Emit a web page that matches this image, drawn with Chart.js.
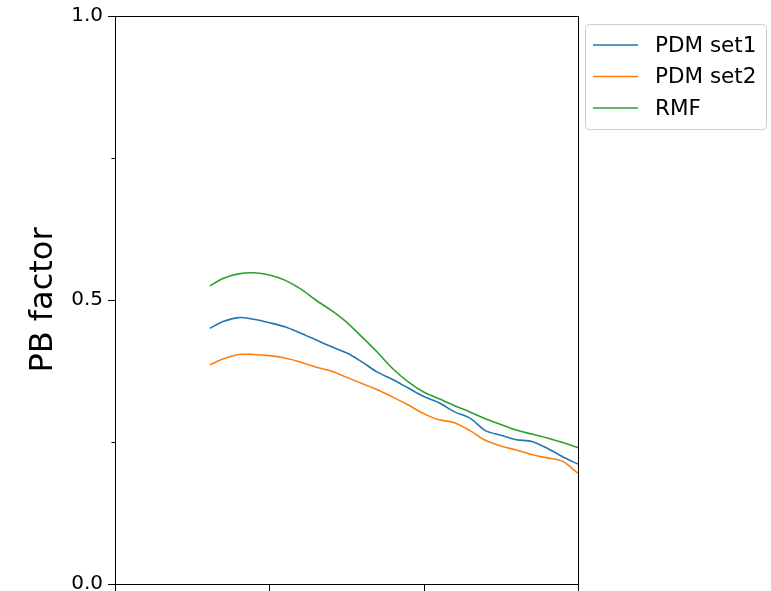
<!DOCTYPE html>
<html>
<head>
<meta charset="utf-8">
<script src="https://cdn.jsdelivr.net/npm/chart.js@4.4.1/dist/chart.umd.min.js"></script>
<style>
  html, body { margin: 0; padding: 0; overflow: hidden; background: #fff; }
  #wrap { width: 771px; height: 640px; }
</style>
</head>
<body>
<div id="wrap"><canvas id="pb"></canvas></div>
<script>
// x positions (axis 0..30, labels fall below the visible frame)
const xs = [6.15, 7, 8, 9, 10, 11, 12, 13, 14, 15, 16, 17, 18, 19, 20, 21, 22, 23, 24, 25, 26, 27, 28, 29, 30];

const pdmSet1 = [0.450, 0.462, 0.469, 0.466, 0.460, 0.453, 0.442, 0.430, 0.418, 0.407, 0.391, 0.373, 0.360, 0.345, 0.330, 0.319, 0.303, 0.292, 0.270, 0.262, 0.254, 0.251, 0.239, 0.224, 0.211];
const pdmSet2 = [0.386, 0.396, 0.404, 0.404, 0.402, 0.398, 0.391, 0.382, 0.375, 0.364, 0.353, 0.342, 0.329, 0.315, 0.300, 0.289, 0.284, 0.270, 0.253, 0.243, 0.236, 0.228, 0.222, 0.216, 0.195];
const rmf     = [0.525, 0.538, 0.546, 0.548, 0.544, 0.535, 0.520, 0.500, 0.482, 0.461, 0.435, 0.408, 0.379, 0.356, 0.338, 0.326, 0.314, 0.303, 0.291, 0.281, 0.271, 0.264, 0.257, 0.249, 0.240];

const seriesNames = ['PDM set1', 'PDM set2', 'RMF'];
const seriesColors = ['#1f77b4', '#ff7f0e', '#2ca02c'];
const yTicks = [0, 0.25, 0.5, 0.75, 1];
const yLabelled = [0, 0.5, 1];

const font = 'DejaVu Sans';

function pts(vals) {
  return vals.map((v, i) => ({ x: xs[i], y: v }));
}

// frame, tick marks and legend in matplotlib style
const mplStyle = {
  id: 'mplStyle',
  afterDatasetsDraw(chart) {
    const ctx = chart.ctx;
    const a = chart.chartArea;
    const xS = chart.scales.x, yS = chart.scales.y;
    ctx.save();
    ctx.strokeStyle = '#000';
    ctx.lineWidth = 1;
    ctx.strokeRect(Math.round(a.left) + 0.5, Math.round(a.top) + 0.5,
      Math.round(a.right - a.left), Math.round(a.bottom - a.top));

    ctx.beginPath();
    yTicks.forEach(t => {
      const y = Math.round(yS.getPixelForValue(t)) + 0.5;
      const len = yLabelled.includes(t) ? 7 : 3.5;
      ctx.moveTo(a.left, y);
      ctx.lineTo(a.left - len, y);
    });
    [0, 10, 20, 30].forEach(t => {
      const x = Math.round(xS.getPixelForValue(t)) + 0.5;
      ctx.moveTo(x, a.bottom);
      ctx.lineTo(x, a.bottom + 7);
    });
    ctx.stroke();

    // legend box
    const lx = 585, ly = 24, lw = 181, lh = 105;
    ctx.fillStyle = 'rgba(255,255,255,0.8)';
    ctx.strokeStyle = '#cccccc';
    ctx.beginPath();
    ctx.roundRect(lx + 0.5, ly + 0.5, lw, lh, 4);
    ctx.fill();
    ctx.stroke();
    ctx.font = '21.5px "' + font + '"';
    ctx.textBaseline = 'middle';
    ctx.textAlign = 'left';
    seriesNames.forEach((name, i) => {
      const y = 45 + i * 31.5;
      ctx.strokeStyle = seriesColors[i];
      ctx.lineWidth = 1.5;
      ctx.beginPath();
      ctx.moveTo(593, y);
      ctx.lineTo(638, y);
      ctx.stroke();
      ctx.fillStyle = '#000';
      ctx.fillText(name, 655, y + 1);
    });
    ctx.restore();
  }
};

new Chart(document.getElementById('pb').getContext('2d'), {
  type: 'line',
  data: {
    datasets: [
      { label: seriesNames[0], data: pts(pdmSet1), borderColor: seriesColors[0] },
      { label: seriesNames[1], data: pts(pdmSet2), borderColor: seriesColors[1] },
      { label: seriesNames[2], data: pts(rmf), borderColor: seriesColors[2] }
    ]
  },
  options: {
    responsive: true,
    maintainAspectRatio: false,
    animation: false,
    layout: { padding: { top: 16, right: 193, bottom: 0, left: 0 } },
    elements: {
      point: { radius: 0 },
      line: { borderWidth: 1.6, tension: 0.3, fill: false }
    },
    plugins: {
      legend: { display: false },
      tooltip: { enabled: false }
    },
    scales: {
      x: {
        type: 'linear',
        min: 0,
        max: 30,
        ticks: { display: false, stepSize: 10 },
        grid: { display: false },
        border: { display: false },
        afterFit(scale) { scale.height = 56; scale.paddingLeft = 0; scale.paddingRight = 0; }
      },
      y: {
        min: 0,
        max: 1,
        afterBuildTicks(scale) { scale.ticks = yTicks.map(v => ({ value: v })); },
        ticks: {
          color: '#000',
          padding: 12,
          font: { family: font, size: 20 },
          callback: v => yLabelled.includes(v) ? v.toFixed(1) : ''
        },
        grid: { display: false, drawTicks: false },
        border: { display: false },
        title: {
          display: true,
          text: 'PB factor',
          color: '#000',
          font: { family: font, size: 32 },
          padding: { top: 24, bottom: 0 }
        },
        afterFit(scale) { scale.width = 115; scale.paddingTop = 0; scale.paddingBottom = 0; }
      }
    }
  },
  plugins: [mplStyle]
});
</script>
</body>
</html>
